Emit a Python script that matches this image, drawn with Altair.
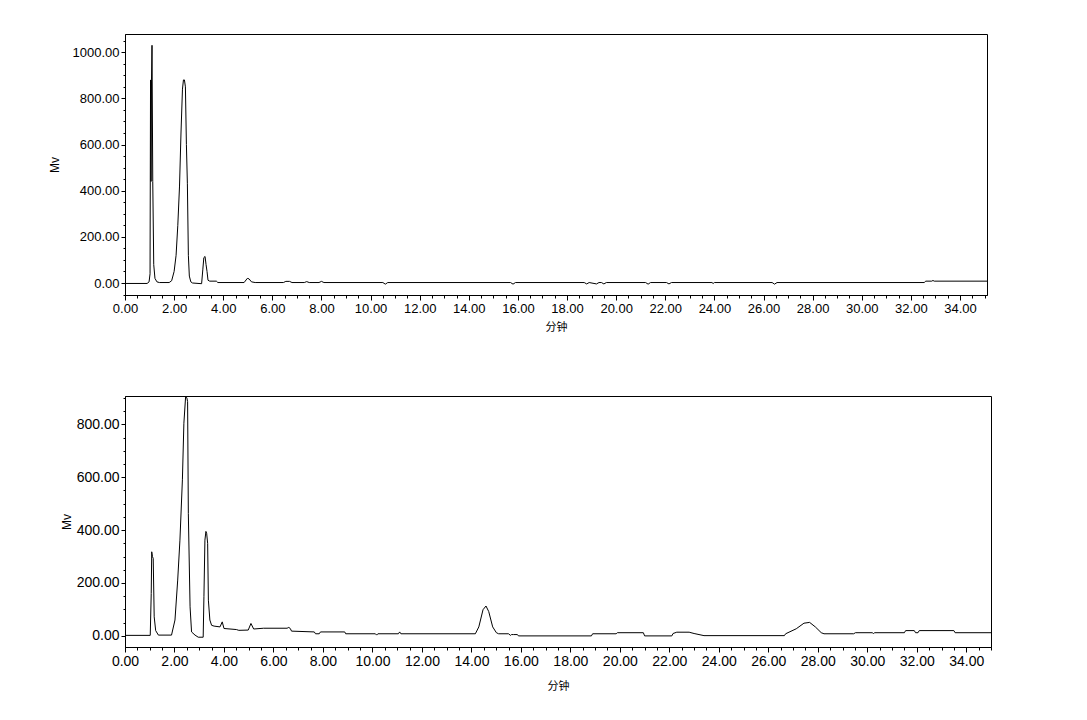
import altair as alt
import pandas as pd

# ---- data (time in minutes, signal in mV) ----
t_top = [0.00, 0.90, 0.98, 1.02, 1.04, 1.06, 1.08, 1.10, 1.13, 1.17, 1.22, 1.30, 1.40,
         1.80, 1.90, 2.00, 2.08, 2.15, 2.22, 2.28, 2.34, 2.38, 2.42, 2.46, 2.50, 2.54, 2.58, 2.62, 2.68, 2.75,
         3.12, 3.17, 3.21, 3.26, 3.30, 3.34, 3.38, 3.45, 3.72, 3.78,
         4.85, 4.98, 5.05, 5.15, 5.30,
         6.45, 6.55, 6.70, 6.80, 7.30, 7.40, 7.50, 7.90, 8.00, 8.10,
         10.50, 10.60, 10.70, 15.70, 15.80, 15.90,
         18.70, 18.80, 18.90, 19.20, 19.30, 19.40, 19.50, 19.60,
         21.20, 21.30, 21.40, 22.05, 22.15, 22.25, 23.90, 23.95, 24.00,
         26.35, 26.45, 26.55, 32.55, 32.60, 32.85, 32.90, 32.95, 35.10]
mv_top = [-2, -2, 5, 40, 880, 440, 880, 1030, 440, 80, 20, 5, 2,
          2, 10, 50, 120, 250, 420, 650, 840, 880, 880, 850, 600, 430, 120, 30, 5, 0,
          -3, 60, 110, 115, 80, 50, 12, 8, 8, 2,
          2, 20, 18, 5, 2,
          2, 7, 7, 2, 2, 6, 2, 2, 7, 2,
          2, -5, 2, 2, -5, 2,
          2, -4, 2, -4, 2, 2, -4, 2,
          2, -5, 2, 2, -4, 2, 2, -2, 2,
          2, -5, 2, 2, 8, 8, 11, 8, 8]

t_bot = [0.00, 1.02, 1.06, 1.08, 1.11, 1.14, 1.18, 1.24, 1.35,
         1.88, 2.02, 2.13, 2.22, 2.32, 2.38, 2.45, 2.50, 2.53, 2.56, 2.63, 2.69, 2.83, 2.96, 3.16,
         3.19, 3.23, 3.27, 3.30, 3.34, 3.37, 3.43, 3.50, 3.60, 3.84, 3.93, 4.00, 4.50, 4.60, 4.98, 5.09,
         5.20, 5.60, 6.55, 6.62, 6.68, 6.73, 7.65, 7.70, 7.85, 7.90, 8.88, 8.92, 10.12, 10.17, 10.22,
         11.05, 11.10, 11.15,
         14.16, 14.30, 14.47, 14.59, 14.70, 14.86, 15.01, 15.10, 15.50, 15.58, 15.62, 15.70, 15.86, 15.90,
         18.85, 18.90, 19.85, 19.90, 20.95, 21.00, 22.10, 22.15, 22.30, 22.80, 23.00, 23.40,
         26.65, 26.70, 27.13, 27.44, 27.67, 27.90, 28.14, 28.25,
         29.45, 29.52, 30.20, 30.25, 30.30, 31.50, 31.55, 31.90, 31.95, 32.05, 32.10, 33.50, 33.55, 35.00]
mv_bot = [2, 2, 160, 318, 300, 293, 72, 20, 3,
          3, 60, 211, 362, 590, 804, 905, 900, 886, 463, 110, 15, 3, -5, -5,
          148, 362, 395, 388, 350, 135, 60, 40, 37, 34, 53, 28, 24, 21, 22, 47,
          26, 29, 29, 32, 28, 18, 15, 8, 8, 15, 15, 8, 8, 3, 8,
          8, 15, 8,
          8, 34, 99, 113, 92, 34, 12, 8, 8, 2, 5, 5, 5, 0,
          0, 8, 8, 12, 12, 0, 0, 9, 14, 14, 9, 1,
          1, 8, 27, 48, 51, 34, 12, 8,
          8, 12, 12, 9, 12, 12, 20, 20, 12, 12, 20, 20, 12, 12]

x_major = [0, 2, 4, 6, 8, 10, 12, 14, 16, 18, 20, 22, 24, 26, 28, 30, 32, 34]
y_major_top = [0, 200, 400, 600, 800, 1000]
y_major_bot = [0, 200, 400, 600, 800]

x_minor = [i * 0.5 for i in range(0, 71)]
y_minor_top = [i * 50 for i in range(-1, 22)]
y_minor_bot = [i * 50 for i in range(0, 19)]


def panel(t, mv, xmax, ydom, ymaj, ymin, w, h, font, fsize, xtpad, ytpad):
    df = pd.DataFrame({"t": t, "mv": mv})
    xs = alt.Scale(domain=[0, xmax], nice=False, zero=False)
    ys = alt.Scale(domain=ydom, nice=False, zero=False)
    common = dict(labelFont=font, labelFontSize=fsize, labelColor="black",
                  tickColor="black", domainColor="black", grid=False,
                  labelFlush=False, labelOverlap=False)
    xa = alt.Axis(values=x_major, format=".2f", tickSize=5, labelPadding=2,
                  title="分钟", titleFont="Noto Sans CJK SC", titleFontSize=11,
                  titleFontWeight="normal", titleColor="black", titlePadding=xtpad,
                  orient="bottom", **common)
    ya = alt.Axis(values=ymaj, format=".2f", tickSize=4, labelPadding=2,
                  title="Mv", titleFont="Liberation Sans", titleFontSize=12,
                  titleFontWeight="normal", titleColor="black", titlePadding=ytpad,
                  orient="left", **common)
    xm = alt.Axis(values=x_minor, labels=False, tickSize=3, domain=False, grid=False,
                  title=None, orient="bottom", tickColor="black")
    ym = alt.Axis(values=ymin, labels=False, tickSize=2, domain=False, grid=False,
                  title=None, orient="left", tickColor="black")
    line = alt.Chart(df).mark_line(color="black", strokeWidth=1, clip=True).encode(
        x=alt.X("t:Q", scale=xs, axis=xa),
        y=alt.Y("mv:Q", scale=ys, axis=ya),
    )
    minor = alt.Chart(df).mark_line(strokeOpacity=0, clip=True).encode(
        x=alt.X("t:Q", scale=xs, axis=xm),
        y=alt.Y("mv:Q", scale=ys, axis=ym),
    )
    return alt.layer(line, minor).resolve_axis(x="independent", y="independent").properties(
        width=w, height=h)


top = panel(t_top, mv_top, 35.1, [-52, 1079], y_major_top, y_minor_top, 862, 261,
            "Liberation Sans", 13, 6, 11)
bot = panel(t_bot, mv_bot, 35.0, [-42, 907], y_major_bot, y_minor_bot, 866, 251,
            "Liberation Sans", 14, 12, 3)

chart = alt.vconcat(top, bot, spacing=62).properties(
    padding={"left": 39, "top": 25, "right": 5, "bottom": 5},
    background="white",
).configure_view(stroke="black", strokeWidth=1)

chart.save("out.html", embed_options={"renderer": "svg", "actions": False})
